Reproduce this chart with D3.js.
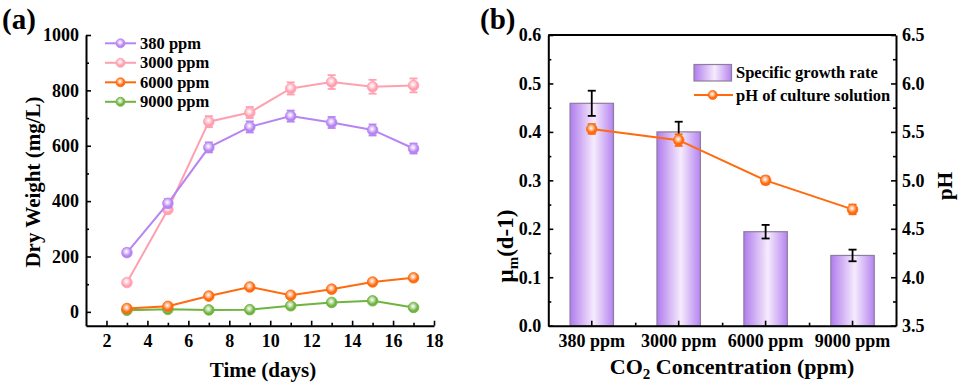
<!DOCTYPE html>
<html>
<head>
<meta charset="utf-8">
<script src="https://cdn.jsdelivr.net/npm/d3@7"></script>
<style>
  html, body { margin: 0; padding: 0; background: #fff; }
  svg { display: block; font-family: "Liberation Serif", "Times New Roman", serif; font-weight: bold; }
</style>
</head>
<body>
<div id="chart"></div>
<script>
// ---- panel (a) data: dry weight over time
const days = [3, 5, 7, 9, 11, 13, 15, 17];
const dw380 = [214, 392, 594, 668, 707, 684, 657, 590];
const dw380Err = [12, 15, 18, 20, 20, 20, 20, 18];
const dw3000 = [106, 370, 687, 720, 807, 830, 813, 818];
const dw3000Err = [8, 10, 20, 20, 22, 25, 25, 25];
const dw6000 = [12, 20, 57, 90, 60, 82, 108, 123];
const dw6000Err = [4, 4, 5, 5, 5, 5, 5, 5];
const dw9000 = [6, 9, 7, 8, 22, 34, 40, 16];
const dw9000Err = [3, 3, 3, 3, 4, 4, 4, 4];
const seriesNames = ["380 ppm", "3000 ppm", "6000 ppm", "9000 ppm"];
const xTicksA = [2, 4, 6, 8, 10, 12, 14, 16, 18];
const yTicksA = [0, 200, 400, 600, 800, 1000];

// ---- panel (b) data: growth rate and pH
const categories = ["380 ppm", "3000 ppm", "6000 ppm", "9000 ppm"];
const growthRate = [0.459, 0.400, 0.194, 0.145];
const growthErr = [0.026, 0.021, 0.014, 0.012];
const phValues = [5.53, 5.415, 5.00, 4.70];
const phErr = [0.05, 0.06, 0.04, 0.05];
const yTicksB = [0, 0.1, 0.2, 0.3, 0.4, 0.5, 0.6];
const yTicksPh = [3.5, 4.0, 4.5, 5.0, 5.5, 6.0, 6.5];

const colors = ["#b784f3", "#ffa0b0", "#ff6a0e", "#6fb43f"];
const W = 959, H = 392;
const FONT = "'Liberation Serif', 'Times New Roman', serif";

const svg = d3.select("#chart").append("svg").attr("width", W).attr("height", H);
const defs = svg.append("defs");

colors.forEach((c, i) => {
  const g = defs.append("radialGradient").attr("id", `ball${i}`)
    .attr("cx", "45%").attr("cy", "40%").attr("r", "60%");
  g.append("stop").attr("offset", "0%").attr("stop-color", "#ffffff");
  g.append("stop").attr("offset", "35%").attr("stop-color", d3.interpolateRgb("#ffffff", c)(0.45));
  g.append("stop").attr("offset", "70%").attr("stop-color", c);
  g.append("stop").attr("offset", "100%").attr("stop-color", c);
});

const barGrad = defs.append("linearGradient").attr("id", "barGrad")
  .attr("x1", "0%").attr("x2", "100%").attr("y1", "0%").attr("y2", "0%");
barGrad.append("stop").attr("offset", "0%").attr("stop-color", "#b07cee");
barGrad.append("stop").attr("offset", "55%").attr("stop-color", "#f6ebfd");
barGrad.append("stop").attr("offset", "100%").attr("stop-color", "#b584f0");

function styleAxis(g) {
  g.attr("font-family", FONT).attr("font-weight", "bold").attr("font-size", 18);
  g.select(".domain").attr("stroke", "#000").attr("stroke-width", 2);
  g.selectAll(".tick line").attr("stroke", "#000").attr("stroke-width", 1.6);
  g.selectAll(".tick text").attr("fill", "#000");
}

// ================= panel (a) =================
const mA = { left: 86, right: 434, top: 35, bottom: 325.7 };
const xA = d3.scaleLinear().domain([1, 18]).range([mA.left, mA.right]);
const yA = d3.scaleLinear().domain([-50, 1000]).range([mA.bottom, mA.top]);

svg.append("g").attr("transform", `translate(0,${mA.bottom})`)
  .call(d3.axisBottom(xA).tickValues(d3.range(3, 18, 2)).tickSize(-3).tickFormat(""))
  .call(g => g.select(".domain").remove())
  .call(styleAxis);
svg.append("g").attr("transform", `translate(${mA.left},0)`)
  .call(d3.axisLeft(yA).tickValues(d3.range(100, 1000, 200)).tickSize(-3).tickFormat(""))
  .call(g => g.select(".domain").remove())
  .call(styleAxis);

svg.append("g").attr("transform", `translate(0,${mA.bottom})`)
  .call(d3.axisBottom(xA).tickValues(xTicksA).tickSize(-5).tickPadding(9).tickSizeOuter(0)
    .tickFormat(d3.format("d")))
  .call(styleAxis);
svg.append("g").attr("transform", `translate(${mA.left},0)`)
  .call(d3.axisLeft(yA).tickValues(yTicksA).tickSize(-5).tickPadding(7).tickSizeOuter(0)
    .tickFormat(d3.format("d")))
  .call(styleAxis);

const seriesA = [dw380, dw3000, dw6000, dw9000].map((vals, i) => ({
  name: seriesNames[i],
  color: colors[i],
  idx: i,
  points: days.map((d, j) => ({
    x: d,
    y: vals[j],
    e: [dw380Err, dw3000Err, dw6000Err, dw9000Err][i][j]
  }))
}));

const lineA = d3.line().x(d => xA(d.x)).y(d => yA(d.y));

// draw from back to front like the original: green, orange, pink, purple
[3, 2, 1, 0].forEach(k => {
  const s = seriesA[k];
  const g = svg.append("g");
  g.append("path").datum(s.points)
    .attr("fill", "none").attr("stroke", s.color).attr("stroke-width", 2)
    .attr("d", lineA);
  const eb = g.selectAll(".eb").data(s.points).join("g")
    .attr("stroke", s.color).attr("stroke-width", 1.8);
  eb.append("line")
    .attr("x1", d => xA(d.x)).attr("x2", d => xA(d.x))
    .attr("y1", d => yA(d.y - d.e)).attr("y2", d => yA(d.y + d.e));
  eb.append("line")
    .attr("x1", d => xA(d.x) - 4).attr("x2", d => xA(d.x) + 4)
    .attr("y1", d => yA(d.y + d.e)).attr("y2", d => yA(d.y + d.e));
  eb.append("line")
    .attr("x1", d => xA(d.x) - 4).attr("x2", d => xA(d.x) + 4)
    .attr("y1", d => yA(d.y - d.e)).attr("y2", d => yA(d.y - d.e));
  g.selectAll("circle").data(s.points).join("circle")
    .attr("cx", d => xA(d.x)).attr("cy", d => yA(d.y)).attr("r", 5.3)
    .attr("fill", `url(#ball${s.idx})`).attr("stroke", s.color).attr("stroke-width", 0.8);
});

// legend (a)
const legA = svg.append("g");
seriesA.forEach((s, i) => {
  const y = 43.3 + i * 19.5;
  legA.append("line").attr("x1", 105).attr("x2", 136).attr("y1", y).attr("y2", y)
    .attr("stroke", s.color).attr("stroke-width", 2);
  legA.append("circle").attr("cx", 120.5).attr("cy", y).attr("r", 4.5)
    .attr("fill", `url(#ball${i})`).attr("stroke", s.color).attr("stroke-width", 0.8);
  legA.append("text").attr("x", 140).attr("y", y + 5.5).attr("font-size", 16.5).text(s.name);
});

svg.append("text").attr("x", (mA.left + mA.right) / 2 + 3).attr("y", 377)
  .attr("text-anchor", "middle").attr("font-size", 21).text("Time (days)");
svg.append("text").attr("transform", `translate(40,182) rotate(-90)`)
  .attr("text-anchor", "middle").attr("font-size", 21).text("Dry Weight (mg/L)");
svg.append("text").attr("x", 2).attr("y", 29).attr("font-size", 29).text("(a)");

// ================= panel (b) =================
const mB = { left: 548.3, right: 896, top: 35, bottom: 325.7 };
const xB = d3.scaleBand().domain(categories).range([mB.left, mB.right])
  .paddingInner(0.5).paddingOuter(0.25);
const yB = d3.scaleLinear().domain([0, 0.6]).range([mB.bottom, mB.top]);
const yPh = d3.scaleLinear().domain([3.5, 6.5]).range([mB.bottom, mB.top]);
const cx = c => xB(c) + xB.bandwidth() / 2;

// bars
svg.append("g").selectAll("rect").data(categories).join("rect")
  .attr("x", c => xB(c)).attr("width", xB.bandwidth())
  .attr("y", (c, i) => yB(growthRate[i]))
  .attr("height", (c, i) => yB(0) - yB(growthRate[i]))
  .attr("fill", "url(#barGrad)").attr("stroke", "#8d7d9e").attr("stroke-width", 1.2);

// bar error bars (black)
const ebB = svg.append("g").attr("stroke", "#000").attr("stroke-width", 1.8)
  .selectAll("g").data(categories).join("g");
ebB.append("line")
  .attr("x1", c => cx(c)).attr("x2", c => cx(c))
  .attr("y1", (c, i) => yB(growthRate[i] - growthErr[i]))
  .attr("y2", (c, i) => yB(growthRate[i] + growthErr[i]));
ebB.append("line")
  .attr("x1", c => cx(c) - 4).attr("x2", c => cx(c) + 4)
  .attr("y1", (c, i) => yB(growthRate[i] + growthErr[i]))
  .attr("y2", (c, i) => yB(growthRate[i] + growthErr[i]));
ebB.append("line")
  .attr("x1", c => cx(c) - 4).attr("x2", c => cx(c) + 4)
  .attr("y1", (c, i) => yB(growthRate[i] - growthErr[i]))
  .attr("y2", (c, i) => yB(growthRate[i] - growthErr[i]));

// pH line
const phPts = categories.map((c, i) => ({ c, v: phValues[i], e: phErr[i] }));
svg.append("path").datum(phPts)
  .attr("fill", "none").attr("stroke", colors[2]).attr("stroke-width", 2)
  .attr("d", d3.line().x(d => cx(d.c)).y(d => yPh(d.v)));
const ebP = svg.append("g").attr("stroke", colors[2]).attr("stroke-width", 1.8)
  .selectAll("g").data(phPts).join("g");
ebP.append("line")
  .attr("x1", d => cx(d.c)).attr("x2", d => cx(d.c))
  .attr("y1", d => yPh(d.v - d.e)).attr("y2", d => yPh(d.v + d.e));
ebP.append("line")
  .attr("x1", d => cx(d.c) - 4).attr("x2", d => cx(d.c) + 4)
  .attr("y1", d => yPh(d.v + d.e)).attr("y2", d => yPh(d.v + d.e));
ebP.append("line")
  .attr("x1", d => cx(d.c) - 4).attr("x2", d => cx(d.c) + 4)
  .attr("y1", d => yPh(d.v - d.e)).attr("y2", d => yPh(d.v - d.e));
svg.append("g").selectAll("circle").data(phPts).join("circle")
  .attr("cx", d => cx(d.c)).attr("cy", d => yPh(d.v)).attr("r", 5.3)
  .attr("fill", "url(#ball2)").attr("stroke", colors[2]).attr("stroke-width", 0.8);

// axes (b)
svg.append("g").attr("transform", `translate(${mB.left},0)`)
  .call(d3.axisLeft(yB).tickValues(d3.range(0.05, 0.6, 0.1)).tickSize(-3).tickFormat(""))
  .call(g => g.select(".domain").remove()).call(styleAxis);
svg.append("g").attr("transform", `translate(${mB.right},0)`)
  .call(d3.axisRight(yPh).tickValues(d3.range(3.75, 6.5, 0.5)).tickSize(-3).tickFormat(""))
  .call(g => g.select(".domain").remove()).call(styleAxis);
const bounds = categories.slice(1).map(c => xB(c) - xB.step() * 0.25);
svg.append("g").attr("transform", `translate(0,${mB.bottom})`)
  .call(d3.axisBottom(d3.scaleLinear().domain([mB.left, mB.right]).range([mB.left, mB.right]))
    .tickValues(bounds).tickSize(-3).tickFormat(""))
  .call(g => g.select(".domain").remove()).call(styleAxis);

svg.append("g").attr("transform", `translate(${mB.left},0)`)
  .call(d3.axisLeft(yB).tickValues(yTicksB).tickSize(-5).tickPadding(7).tickSizeOuter(0)
    .tickFormat(d3.format(".1f")))
  .call(styleAxis);
svg.append("g").attr("transform", `translate(${mB.right},0)`)
  .call(d3.axisRight(yPh).tickValues(yTicksPh).tickSize(-5).tickPadding(6).tickSizeOuter(0)
    .tickFormat(d3.format(".1f")))
  .call(styleAxis);
svg.append("g").attr("transform", `translate(0,${mB.bottom})`)
  .call(d3.axisBottom(xB).tickSize(-5).tickPadding(9).tickSizeOuter(0))
  .call(styleAxis);
svg.append("line").attr("x1", mB.left).attr("x2", mB.right).attr("y1", mB.top).attr("y2", mB.top)
  .attr("stroke", "#000").attr("stroke-width", 2);

// legend (b)
svg.append("rect").attr("x", 694).attr("y", 64.5).attr("width", 37.5).attr("height", 16.5)
  .attr("fill", "url(#barGrad)").attr("stroke", "#8d7d9e").attr("stroke-width", 1.2);
svg.append("text").attr("x", 736).attr("y", 78).attr("font-size", 16.5).text("Specific growth rate");
svg.append("line").attr("x1", 694).attr("x2", 733).attr("y1", 95).attr("y2", 95)
  .attr("stroke", colors[2]).attr("stroke-width", 2);
svg.append("circle").attr("cx", 712.7).attr("cy", 95).attr("r", 4.5)
  .attr("fill", "url(#ball2)").attr("stroke", colors[2]).attr("stroke-width", 0.8);
svg.append("text").attr("x", 736).attr("y", 100.5).attr("font-size", 16.5).text("pH of culture solution");

// titles (b)
const xt = svg.append("text").attr("x", (mB.left + mB.right) / 2 + 10).attr("y", 374)
  .attr("text-anchor", "middle").attr("font-size", 22);
xt.append("tspan").text("CO");
xt.append("tspan").attr("font-size", 15).attr("dy", 5).text("2");
xt.append("tspan").attr("dy", -5).text(" Concentration (ppm)");

const yt = svg.append("text").attr("transform", `translate(513,246) rotate(-90)`)
  .attr("text-anchor", "middle").attr("font-size", 23);
yt.append("tspan").text("μ");
yt.append("tspan").attr("font-size", 15).attr("dy", 5).text("m");
yt.append("tspan").attr("dy", -5).text("(d-1)");

svg.append("text").attr("transform", `translate(952,186) rotate(-90)`)
  .attr("text-anchor", "middle").attr("font-size", 21).text("pH");
svg.append("text").attr("x", 480).attr("y", 29).attr("font-size", 29).text("(b)");
</script>
</body>
</html>
